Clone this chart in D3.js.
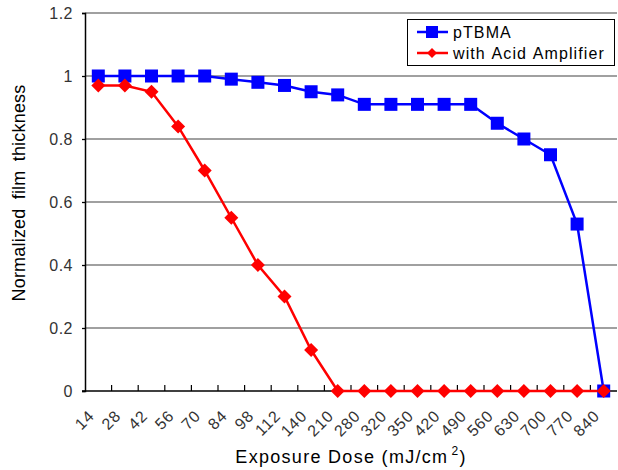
<!DOCTYPE html>
<html><head><meta charset="utf-8">
<script src="https://cdn.jsdelivr.net/npm/d3@7"></script>
<style>body{margin:0;background:#fff;} svg{display:block;font-family:"Liberation Sans",Arial,sans-serif;}</style>
</head><body>
<svg id="c" width="618" height="470"></svg>
<script>
const categories = ["14","28","42","56","70","84","98","112","140","210","280","320","350","420","490","560","630","700","770","840"];
const pTBMA = [1,1,1,1,1,0.99,0.98,0.97,0.95,0.94,0.91,0.91,0.91,0.91,0.91,0.85,0.80,0.75,0.53,0];
const acidAmp = [0.97,0.97,0.95,0.84,0.70,0.55,0.40,0.30,0.13,0,0,0,0,0,0,0,0,0,0,0];
const yTicks = [0,0.2,0.4,0.6,0.8,1,1.2];
const seriesNames = ["pTBMA","with Acid Amplifier"];

const svg = d3.select("#c");
const L=85, R=617, T=13, B=391;
const x = d3.scaleBand().domain(categories).range([L,R]);
const y = d3.scaleLinear().domain([0,1.2]).range([B,T]);

// gridlines
svg.append("g").selectAll("line").data(yTicks.filter(d=>d>0)).join("line")
  .attr("x1",L).attr("x2",R).attr("y1",d=>y(d)).attr("y2",d=>y(d))
  .attr("stroke","#808080").attr("stroke-width",1.3);

// y axis
const ya = svg.append("g").attr("transform",`translate(${L},0)`)
  .call(d3.axisLeft(y).tickValues(yTicks).tickSize(3).tickFormat(d=>d3.format("")(d)));
ya.select(".domain").attr("stroke","#000").attr("stroke-width",1.5);
ya.selectAll(".tick line").attr("stroke","#000").attr("stroke-width",1.3);
ya.selectAll("text").attr("font-size",16).attr("fill","#333").attr("x",-12).attr("letter-spacing",0.5)
  .attr("font-family","'Liberation Sans',Arial,sans-serif");

// x axis line and ticks between categories
svg.append("line").attr("x1",L-3).attr("x2",R).attr("y1",B).attr("y2",B).attr("stroke","#000").attr("stroke-width",1.5);
svg.append("g").selectAll("line").data(categories.slice(1)).join("line")
  .attr("x1",d=>x(d)).attr("x2",d=>x(d)).attr("y1",B).attr("y2",B-6)
  .attr("stroke","#000").attr("stroke-width",1.2);
svg.append("g").selectAll("text").data(categories).join("text")
  .attr("transform",d=>`translate(${x(d)+x.bandwidth()/2-3},${B+26}) rotate(-45)`)
  .attr("text-anchor","end").attr("font-size",16).attr("letter-spacing",0.8).attr("fill","#333").text(d=>d);

// lines
const line = d3.line().x((d,i)=>x(categories[i])+x.bandwidth()/2).y(d=>y(d));
svg.append("path").datum(acidAmp).attr("d",line).attr("fill","none").attr("stroke","#FF0000").attr("stroke-width",2.5);
svg.append("path").datum(pTBMA).attr("d",line).attr("fill","none").attr("stroke","#0000FF").attr("stroke-width",2.5);

const sq=13, dm=7;
svg.append("g").selectAll("rect").data(pTBMA).join("rect")
  .attr("x",(d,i)=>x(categories[i])+x.bandwidth()/2-sq/2).attr("y",d=>y(d)-sq/2)
  .attr("width",sq).attr("height",sq).attr("fill","#0000FF");
svg.append("g").selectAll("path").data(acidAmp).join("path")
  .attr("transform",(d,i)=>`translate(${x(categories[i])+x.bandwidth()/2},${y(d)})`)
  .attr("d",`M0,${-dm}L${dm},0L0,${dm}L${-dm},0Z`).attr("fill","#FF0000");

// legend
const lg = svg.append("g");
lg.append("rect").attr("x",407.5).attr("y",19.5).attr("width",207).attr("height",46).attr("fill","#fff").attr("stroke","#000").attr("stroke-width",1);
const cols=["#0000FF","#FF0000"];
seriesNames.forEach((n,i)=>{
  const yy=32+i*21;
  lg.append("line").attr("x1",417).attr("x2",448).attr("y1",yy).attr("y2",yy).attr("stroke",cols[i]).attr("stroke-width",2.5);
  if(i===0) lg.append("rect").attr("x",432-6).attr("y",yy-6).attr("width",12).attr("height",12).attr("fill",cols[i]);
  else lg.append("path").attr("transform",`translate(432,${yy})`).attr("d","M0,-5L5,0L0,5L-5,0Z").attr("fill",cols[i]);
  lg.append("text").attr("x",453).attr("y",yy+6).attr("font-size",16).attr("letter-spacing",1.1).attr("word-spacing",1).attr("fill","#000").text(n);
});

// axis titles
svg.append("text").attr("transform","translate(25,193) rotate(-90)").attr("text-anchor","middle")
  .attr("font-size",18).attr("letter-spacing",0.2).attr("word-spacing",4).attr("fill","#000").text("Normalized film thickness");
const xt = svg.append("text").attr("x",351).attr("y",463).attr("text-anchor","middle").attr("font-size",18)
  .attr("letter-spacing",1.3).attr("fill","#000");
xt.append("tspan").text("Exposure Dose (mJ/cm");
xt.append("tspan").attr("dx",3).attr("dy",-8).attr("font-size",12).text("2");
xt.append("tspan").attr("dy",8).text(")");
</script>
</body></html>
